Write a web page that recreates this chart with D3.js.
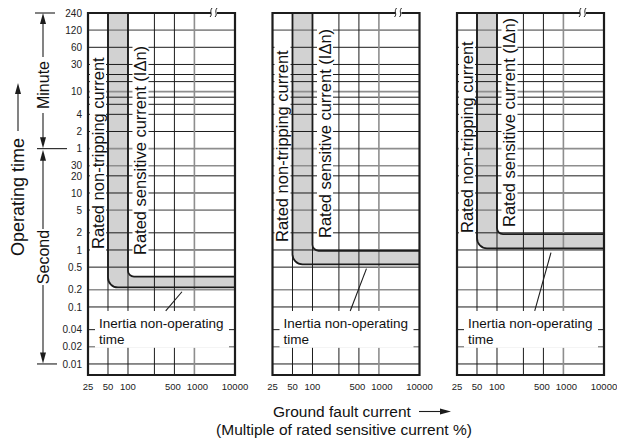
<!DOCTYPE html>
<html><head><meta charset="utf-8">
<script src="https://cdn.jsdelivr.net/npm/d3@7"></script>
<style>html,body{margin:0;padding:0;background:#fff;} svg{display:block;font-family:"Liberation Sans", Arial, sans-serif;}</style>
</head><body>
<svg id="c" width="617" height="441"></svg>
<script>
// ---- data ----
const currentTicks = [25, 50, 100, 500, 1000, 10000];
const currentGridBlack = [50, 100, 250, 500];
const currentGridGray = [1000];
const minuteTicks = [240, 120, 60, 30, 10, 4, 2, 1];
const minuteGrid = [120, 60, 30, 20, 15, 10, 8, 6, 4, 2, 1];
const minuteGridGray = [120, 10, 1];
const secondTicks = [30, 20, 10, 5, 2, 1, 0.5, 0.2, 0.1, 0.04, 0.02, 0.01];
const secondGridGray = [30, 5, 0.2, 0.02];
const nonTrippingCurrent = [50, 50, 50];      // % of rated sensitive current
const sensitiveCurrent = [100, 100, 100];
const inertiaTime = [0.22, 0.56, 1.07];       // s, lower edge of band
const maxOperatingTime = [0.34, 0.97, 1.9];   // s, upper edge of band
const leaderCurrent = [370, 650];

// ---- layout ----
const svg = d3.select("#c");
const plotTop = 13, plotBottom = 375, pw = 147;
const panelLeft = [88, 272.5, 457];
const textStart = [[249, 255], [242, 238], [233, 227]];
const xLabelNudge = {500: -1.5, 1000: 3};
const yLabelNudge = {30: -0.8, 20: 0.8};
const y = d3.scaleLog().domain([14400, 0.0064]).range([plotTop, plotBottom]);
const BLACK = "#1c1c1c", GRAY = "#8e8e8e";

const hGrid = minuteGrid.map(m => ({v: m * 60, gray: minuteGridGray.includes(m)}))
  .concat(secondTicks.map(s => ({v: s, gray: secondGridGray.includes(s)})));

panelLeft.forEach((L, i) => {
  const x = d3.scaleLog().domain([25, 1000, 10000]).range([L, L + 106.4, L + pw]);
  const R = L + pw;
  const g = svg.append("g");
  const x50 = x(nonTrippingCurrent[i]), x100 = x(sensitiveCurrent[i]);
  const yLow = y(inertiaTime[i]), yUp = y(maxOperatingTime[i]);
  const r1 = 10, r2 = 6;

  // band fill
  const pf = d3.path();
  pf.moveTo(x50, plotTop); pf.arcTo(x50, yLow, R, yLow, r1); pf.lineTo(R, yLow);
  pf.lineTo(R, yUp); pf.arcTo(x100, yUp, x100, plotTop, r2); pf.lineTo(x100, plotTop); pf.closePath();
  g.append("path").attr("d", pf.toString()).attr("fill", "#d2d2d2");

  // grid
  g.selectAll(".h").data(hGrid).join("line")
    .attr("x1", L).attr("x2", R).attr("y1", d => y(d.v)).attr("y2", d => y(d.v))
    .attr("stroke", d => d.gray ? GRAY : BLACK).attr("stroke-width", d => d.gray ? 1.6 : 1);
  const vGrid = currentGridBlack.map(v => ({v, gray: false})).concat(currentGridGray.map(v => ({v, gray: true})));
  g.selectAll(".v").data(vGrid).join("line")
    .attr("y1", plotTop).attr("y2", plotBottom).attr("x1", d => x(d.v)).attr("x2", d => x(d.v))
    .attr("stroke", d => d.gray ? GRAY : BLACK).attr("stroke-width", d => d.gray ? 1.6 : 1);

  // rotated labels
  const rot = [
    {cx: (L + x50) / 2, sy: textStart[i][0], t: "Rated non-tripping current"},
    {cx: x100 + 12.5, sy: textStart[i][1], t: "Rated sensitive current (I\u0394n)"}
  ];
  rot.forEach(r => {
    const gt = g.append("g").attr("transform", `translate(${r.cx},${r.sy}) rotate(-90)`);
    const rect = gt.append("rect").attr("fill", "#fff");
    const tx = gt.append("text").attr("x", 0).attr("y", 0).attr("dy", "0.36em")
      .attr("font-size", 16.5).attr("fill", "#111").text(r.t);
    const len = tx.node().getComputedTextLength();
    rect.attr("x", -4).attr("y", -8).attr("width", len + 12).attr("height", 16);
  });

  // inertia box
  const bTop = y(0.1) + 4, bBot = y(0.02) + 1;
  g.append("rect").attr("x", L + 7).attr("y", bTop).attr("width", pw - 13).attr("height", bBot - bTop).attr("fill", "#fff");
  g.append("text").attr("x", L + 11).attr("y", y(0.04) - 1.5).attr("font-size", 13.5).attr("fill", "#111").text("Inertia non-operating");
  g.append("text").attr("x", L + 11).attr("y", y(0.04) + 14.5).attr("font-size", 13.5).attr("fill", "#111").text("time");
  g.append("line").attr("x1", x(leaderCurrent[0])).attr("y1", bTop)
    .attr("x2", x(leaderCurrent[1])).attr("y2", y(inertiaTime[i] * 0.84))
    .attr("stroke", BLACK).attr("stroke-width", 1.1);

  // band lines
  const po = d3.path(); po.moveTo(x50, plotTop); po.arcTo(x50, yLow, R, yLow, r1); po.lineTo(R, yLow);
  const pn = d3.path(); pn.moveTo(x100, plotTop); pn.arcTo(x100, yUp, R, yUp, r2); pn.lineTo(R, yUp);
  [po, pn].forEach(p => g.append("path").attr("d", p.toString()).attr("fill", "none").attr("stroke", BLACK).attr("stroke-width", 1.8));

  // border with break
  const bx = R - 21;
  const bw = 2.2;
  g.append("path").attr("d", `M${bx - 3},${plotTop} H${L} V${plotBottom} H${R} V${plotTop} H${bx + 3}`)
    .attr("fill", "none").attr("stroke", BLACK).attr("stroke-width", bw);
  [bx - 2.5, bx + 2.5].forEach(sx => {
    g.append("path").attr("d", `M${sx - 1.5},${plotTop + 4} C${sx + 1.5},${plotTop + 1} ${sx - 2.5},${plotTop - 1} ${sx + 0.5},${plotTop - 5}`)
      .attr("fill", "none").attr("stroke", BLACK).attr("stroke-width", 1);
  });

  // x tick labels
  g.selectAll(".xl").data(currentTicks).join("text")
    .attr("x", d => x(d) + (xLabelNudge[d] || 0)).attr("y", 390).attr("text-anchor", "middle")
    .attr("font-size", 9.5).attr("fill", "#222").text(d => d);
});

// y tick labels
const yl = svg.append("g").attr("font-size", 10).attr("fill", "#222").attr("text-anchor", "end");
yl.selectAll(".m").data(minuteTicks).join("text")
  .attr("x", 82).attr("y", d => y(d * 60)).attr("dy", "0.36em").text(d => d);
yl.selectAll(".s").data(secondTicks).join("text")
  .attr("x", 82).attr("y", d => y(d) + (yLabelNudge[d] || 0)).attr("dy", "0.36em").text(d => d);

// left annotations
const ann = svg.append("g").attr("stroke", BLACK).attr("fill", "none").attr("stroke-width", 1.1);
function arrow(xc, tip, dir) { // dir -1 up, +1 down
  svg.append("path").attr("d", `M${xc},${tip} L${xc - 3},${tip - dir * 11} L${xc + 3},${tip - dir * 11} Z`).attr("fill", BLACK);
}
const ax = 43;
const yMin = y(60), yTop = y(14400), yBot = y(0.01);
ann.append("line").attr("x1", 35).attr("x2", 55).attr("y1", yTop).attr("y2", yTop);
ann.append("line").attr("x1", 37).attr("x2", 67).attr("y1", yMin).attr("y2", yMin);
ann.append("line").attr("x1", 37).attr("x2", 57).attr("y1", yBot).attr("y2", yBot);
ann.append("line").attr("x1", ax).attr("x2", ax).attr("y1", yTop + 8).attr("y2", 57);
ann.append("line").attr("x1", ax).attr("x2", ax).attr("y1", 113).attr("y2", yMin - 8);
ann.append("line").attr("x1", ax).attr("x2", ax).attr("y1", yMin + 8).attr("y2", 229);
ann.append("line").attr("x1", ax).attr("x2", ax).attr("y1", 285).attr("y2", yBot - 8);
arrow(ax, yTop, -1); arrow(ax, yMin - 0.5, 1); arrow(ax, yMin + 1, -1); arrow(ax, yBot - 0.5, 1);
svg.append("text").attr("transform", `translate(${ax},85) rotate(-90)`).attr("dy", "0.36em")
  .attr("text-anchor", "middle").attr("font-size", 16).attr("fill", "#111").text("Minute");
svg.append("text").attr("transform", `translate(${ax},257) rotate(-90)`).attr("dy", "0.36em")
  .attr("text-anchor", "middle").attr("font-size", 16).attr("fill", "#111").text("Second");
svg.append("text").attr("transform", `translate(18,197) rotate(-90)`).attr("dy", "0.36em")
  .attr("text-anchor", "middle").attr("font-size", 18).attr("fill", "#111").text("Operating time");
ann.append("line").attr("x1", 18).attr("x2", 18).attr("y1", 131).attr("y2", 92);
arrow(18, 83, -1);

// bottom title
svg.append("text").attr("x", 273).attr("y", 416.5).attr("font-size", 15.5).attr("fill", "#111").text("Ground fault current");
ann.append("line").attr("x1", 419).attr("x2", 442).attr("y1", 411.5).attr("y2", 411.5);
svg.append("path").attr("d", "M451,411.5 L440,408.5 L440,414.5 Z").attr("fill", BLACK);
svg.append("text").attr("x", 344).attr("y", 434.5).attr("text-anchor", "middle").attr("font-size", 15.5).attr("fill", "#111")
  .text("(Multiple of rated sensitive current %)");
</script>
</body></html>
